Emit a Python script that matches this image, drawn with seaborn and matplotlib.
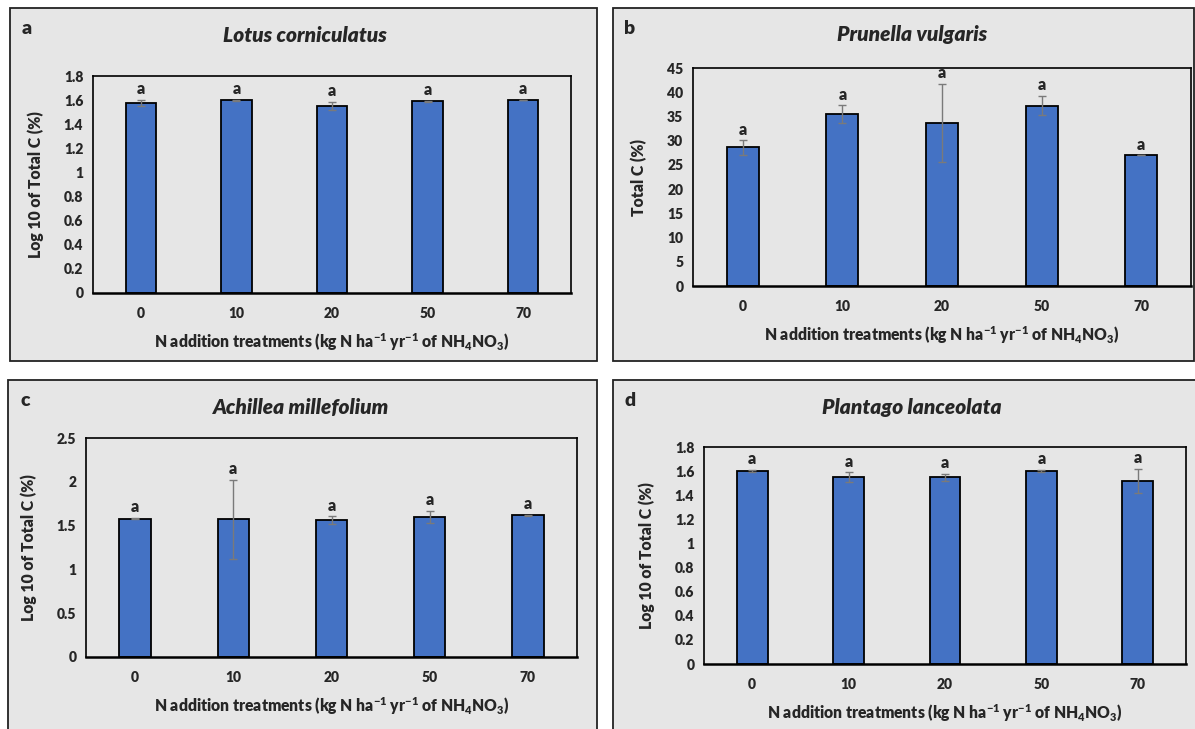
import matplotlib
matplotlib.use('Agg')
import matplotlib.pyplot as plt
import matplotlib.patches as mpatches
from matplotlib.ticker import FuncFormatter, MultipleLocator
import seaborn as sns
import pandas as pd

# data
treatments = ['0', '10', '20', '50', '70']

lotus_mean = [1.58, 1.60, 1.55, 1.59, 1.60]
lotus_err = [0.025, 0.005, 0.035, 0.003, 0.003]

prunella_mean = [28.6, 35.5, 33.6, 37.2, 27.0]
prunella_err = [1.5, 1.8, 8.1, 2.0, 0.0]

achillea_mean = [1.58, 1.57, 1.56, 1.60, 1.62]
achillea_err = [0.01, 0.45, 0.045, 0.07, 0.005]

plantago_mean = [1.60, 1.55, 1.55, 1.60, 1.52]
plantago_err = [0.01, 0.04, 0.03, 0.01, 0.10]

sig_letters = ['a', 'a', 'a', 'a', 'a']

W, H = 1195, 729
BG = '#e6e6e6'
BAR = '#4472c4'
WEIGHT = 'heavy'

sns.set_theme(style='white')
plt.rcParams['font.family'] = ['Lato', 'DejaVu Sans']
plt.rcParams['font.weight'] = WEIGHT
plt.rcParams['mathtext.fontset'] = 'custom'
plt.rcParams['mathtext.rm'] = 'Lato:heavy'
plt.rcParams['mathtext.it'] = 'Lato:heavy:italic'
plt.rcParams['mathtext.bf'] = 'Lato:heavy'

fig = plt.figure(figsize=(W / 100, H / 100), dpi=100)
fig.patch.set_facecolor('white')

xlab = r'N addition treatments (kg N ha$^{-1}$ yr$^{-1}$ of NH$_4$NO$_3$)'


def px_rect(x0, y0, x1, y1):
    return [x0 / W, 1 - y1 / H, (x1 - x0) / W, (y1 - y0) / H]


panels = [
    # letter, title, title x, ylabel, mean, err, ymax, step, outer box, axes box
    ('a', 'Lotus corniculatus', 305, 'Log 10 of Total C (%)', lotus_mean, lotus_err,
     1.8, 0.2, (10, 8, 597, 361), (93, 76, 571, 293)),
    ('b', 'Prunella vulgaris', 912, 'Total C (%)', prunella_mean, prunella_err,
     45, 5, (613, 8, 1194, 361), (693, 68, 1191, 286)),
    ('c', 'Achillea millefolium', 301, 'Log 10 of Total C (%)', achillea_mean, achillea_err,
     2.5, 0.5, (8, 380, 597, 740), (86, 438, 577, 657)),
    ('d', 'Plantago lanceolata', 912, 'Log 10 of Total C (%)', plantago_mean, plantago_err,
     1.8, 0.2, (613, 380, 1198, 740), (704, 447, 1186, 664)),
]

for letter, title, tx, ylabel, mean, err, ymax, step, outer, inner in panels:
    ox0, oy0, ox1, oy1 = outer
    fig.patches.append(mpatches.Rectangle(
        (ox0 / W, 1 - oy1 / H), (ox1 - ox0) / W, (oy1 - oy0) / H,
        transform=fig.transFigure, facecolor=BG, edgecolor='#222222',
        linewidth=1.3, zorder=-5))

    ax = fig.add_axes(px_rect(*inner))
    df = pd.DataFrame({'treatment': treatments, 'value': mean, 'err': err})
    sns.barplot(data=df, x='treatment', y='value', ax=ax, color=BAR,
                saturation=1, width=0.32, edgecolor='black', linewidth=1.3,
                errorbar=None)
    xs = range(len(treatments))
    ax.errorbar(xs, df['value'], yerr=df['err'], fmt='none', ecolor='#7a7a7a',
                elinewidth=1, capsize=3, capthick=1)
    for x, m, e, s in zip(xs, mean, err, sig_letters):
        ax.text(x, m + e + ymax * 0.012, s, ha='center', va='bottom',
                fontsize=11.5, fontweight=WEIGHT)

    ax.set_facecolor(BG)
    ax.set_ylim(0, ymax)
    ax.set_xlim(-0.5, len(treatments) - 0.5)
    ax.yaxis.set_major_locator(MultipleLocator(step))
    ax.yaxis.set_major_formatter(FuncFormatter(lambda v, p: '{:g}'.format(round(v, 2))))
    ax.tick_params(length=0, labelsize=10, pad=7)
    for t in ax.get_xticklabels() + ax.get_yticklabels():
        t.set_fontweight(WEIGHT)
    ax.tick_params(axis='x', pad=10)
    for sp in ax.spines.values():
        sp.set_color('black')
        sp.set_linewidth(1.2)
    ax.spines['bottom'].set_linewidth(1.8)

    ax.set_xlabel(xlab, fontsize=11.3, fontweight=WEIGHT, labelpad=8)
    ax.set_ylabel(ylabel, fontsize=11.3, fontweight=WEIGHT, labelpad=14)

    fig.text(tx / W, 1 - (oy0 + 27) / H, title, ha='center', va='center',
             fontsize=15, fontweight=WEIGHT, fontstyle='italic')
    fig.text((ox0 + 17) / W, 1 - (oy0 + 21) / H, letter, ha='center',
             va='center', fontsize=14, fontweight=WEIGHT)

fig.savefig('out.png', dpi=100)
